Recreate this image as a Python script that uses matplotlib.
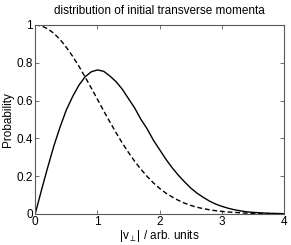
import matplotlib
matplotlib.use("Agg")
import matplotlib.pyplot as plt

plt.rcParams['font.family'] = ['Liberation Sans', 'DejaVu Sans']
plt.rcParams['mathtext.fontset'] = 'custom'
plt.rcParams['mathtext.rm'] = 'Liberation Sans'
plt.rcParams['mathtext.it'] = 'Liberation Sans'

v = [0.0, 0.1, 0.2, 0.3, 0.4, 0.5, 0.6, 0.7, 0.8, 0.9,
     1.0, 1.1, 1.2, 1.3, 1.4, 1.5, 1.6, 1.7, 1.8, 1.9,
     2.0, 2.1, 2.2, 2.3, 2.4, 2.5, 2.6, 2.7, 2.8, 2.9,
     3.0, 3.1, 3.2, 3.3, 3.4, 3.5, 3.6, 3.7, 3.8, 3.9, 4.0]

rayleigh = [0.0, 0.125, 0.245, 0.36, 0.46, 0.55, 0.62, 0.68, 0.725, 0.752,
            0.762, 0.755, 0.73, 0.70, 0.66, 0.61, 0.56, 0.50, 0.45, 0.39,
            0.34, 0.29, 0.245, 0.205, 0.17, 0.137, 0.11, 0.088, 0.068, 0.052,
            0.040, 0.030, 0.022, 0.016, 0.011, 0.008, 0.006, 0.004, 0.003, 0.002, 0.001]

gauss = [1.0, 0.995, 0.98, 0.956, 0.923, 0.882, 0.835, 0.783, 0.726, 0.667,
         0.607, 0.546, 0.487, 0.43, 0.375, 0.325, 0.278, 0.236, 0.198, 0.164,
         0.135, 0.11, 0.09, 0.072, 0.057, 0.045, 0.035, 0.028, 0.022, 0.017,
         0.013, 0.010, 0.008, 0.006, 0.004, 0.003, 0.002, 0.0015, 0.001, 0.0007, 0.0005]

xticks = [0, 1, 2, 3, 4]
yticks = [0, 0.2, 0.4, 0.6, 0.8, 1]
yticklabels = ['0', '0.2', '0.4', '0.6', '0.8', '1']

fig = plt.figure(figsize=(2.91, 2.45), dpi=100)
ax = fig.add_axes([0.121, 0.127, 0.855, 0.771])

ax.plot(v, rayleigh, color='black', lw=1.0, linestyle='-')
ax.plot(v, gauss, color='black', lw=1.0, linestyle=(0, (3.5, 2)))

ax.set_xlim(0, 4)
ax.set_ylim(0, 1)
ax.set_xticks(xticks)
ax.set_xticklabels([str(t) for t in xticks])
ax.set_yticks(yticks)
ax.set_yticklabels(yticklabels)
ax.tick_params(direction='in', top=True, right=True, length=3, width=0.6,
               labelsize=8.5, pad=1.5, colors='0.35', labelcolor='black')
for s in ax.spines.values():
    s.set_color('0.35')
    s.set_linewidth(0.8)

ax.set_title('distribution of initial transverse momenta', fontsize=8.5, pad=8)
ax.set_ylabel('Probability', fontsize=8.5, labelpad=2)
ax.set_xlabel(r'|v$_{\perp}$| / arb. units', fontsize=8.5, labelpad=0)

fig.savefig('out.png', dpi=100)
